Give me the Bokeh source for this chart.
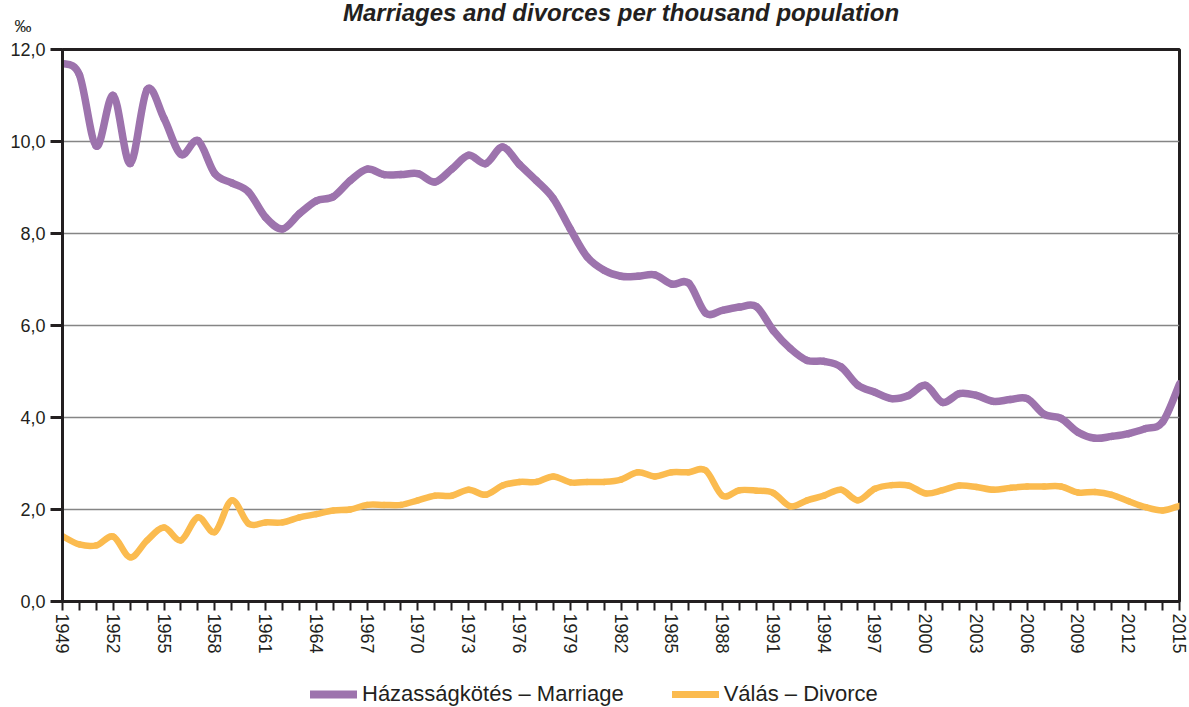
import numpy as np
from bokeh.plotting import figure
from bokeh.layouts import column
from bokeh.models import Range1d, FixedTicker, Legend, LegendItem, ColumnDataSource, Title
from bokeh.embed import file_html
from bokeh.resources import INLINE

# ---------------- data ----------------
years = list(range(1949, 2016))
marriage = [11.70, 11.45, 9.90, 11.00, 9.52, 11.13, 10.50, 9.72, 10.02, 9.30,
            9.10, 8.90, 8.35, 8.10, 8.43, 8.71, 8.80, 9.15, 9.40, 9.28,
            9.28, 9.30, 9.12, 9.40, 9.70, 9.52, 9.88, 9.50, 9.15, 8.76,
            8.10, 7.49, 7.20, 7.07, 7.07, 7.10, 6.90, 6.92, 6.27, 6.33,
            6.40, 6.41, 5.89, 5.50, 5.24, 5.22, 5.10, 4.70, 4.55, 4.41,
            4.48, 4.70, 4.33, 4.52, 4.48, 4.35, 4.39, 4.41, 4.07, 3.98,
            3.68, 3.55, 3.59, 3.65, 3.76, 3.90, 4.73]
divorce = [1.42, 1.24, 1.22, 1.41, 0.96, 1.33, 1.61, 1.33, 1.83, 1.51,
           2.20, 1.69, 1.72, 1.72, 1.83, 1.90, 1.98, 2.00, 2.10, 2.10,
           2.10, 2.20, 2.30, 2.30, 2.43, 2.32, 2.52, 2.60, 2.60, 2.72,
           2.59, 2.60, 2.60, 2.65, 2.81, 2.72, 2.81, 2.81, 2.85, 2.30,
           2.42, 2.41, 2.36, 2.07, 2.20, 2.30, 2.43, 2.20, 2.45, 2.53,
           2.52, 2.35, 2.42, 2.52, 2.49, 2.43, 2.47, 2.50, 2.50, 2.50,
           2.37, 2.38, 2.32, 2.18, 2.05, 1.98, 2.08]
series_names = ["Házasságkötés – Marriage", "Válás – Divorce"]
series_colors = ["#9d73ad", "#fbbb4f"]
series_widths = [7.5, 6.5]
title_text = "Marriages and divorces per thousand population"
unit_text = "‰"
y_ticks = [0, 2, 4, 6, 8, 10, 12]
y_tick_labels = ["0,0", "2,0", "4,0", "6,0", "8,0", "10,0", "12,0"]
x_label_years = list(range(1949, 2016, 3))

FONT = "Liberation Sans"
DARK = "#231f20"


def smooth_source(xs, ys):
    """Catmull-Rom style cubic Bezier segments through the data points."""
    x = np.asarray(xs, float)
    y = np.asarray(ys, float)
    n = len(x)
    xp = np.concatenate([[x[0]], x, [x[-1]]])
    yp = np.concatenate([[y[0]], y, [y[-1]]])
    return ColumnDataSource(dict(
        x0=x[:-1], y0=y[:-1], x1=x[1:], y1=y[1:],
        cx0=x[:-1] + (xp[2:n + 1] - xp[0:n - 1]) / 6.0,
        cy0=y[:-1] + (yp[2:n + 1] - yp[0:n - 1]) / 6.0,
        cx1=x[1:] - (xp[3:n + 2] - xp[1:n]) / 6.0,
        cy1=y[1:] - (yp[3:n + 2] - yp[1:n]) / 6.0,
    ))


p = figure(width=1189, height=656,
           x_range=Range1d(years[0], years[-1]), y_range=Range1d(y_ticks[0], y_ticks[-1]),
           output_backend="svg", toolbar_location=None,
           min_border_left=62, min_border_right=10,
           min_border_top=49, min_border_bottom=55)

p.outline_line_color = DARK
p.outline_line_width = 3
p.background_fill_color = "white"
p.border_fill_color = "white"

# titles: unit sign closest to the frame, main title outermost
p.add_layout(Title(text=unit_text, align="left", offset=-48, standoff=27,
                   text_font=FONT, text_font_size="17px", text_font_style="normal",
                   text_color=DARK), "above")
p.title.text = title_text
p.title.align = "center"
p.title.standoff = -48
p.title.text_font = FONT
p.title.text_font_size = "24px"
p.title.text_font_style = "bold italic"
p.title.text_color = DARK

# grid
p.xgrid.visible = False
p.ygrid.ticker = FixedTicker(ticks=y_ticks)
p.ygrid.grid_line_color = "#858585"
p.ygrid.grid_line_width = 1.6

# y axis
ya = p.yaxis[0]
ya.ticker = FixedTicker(ticks=y_ticks)
ya.major_label_overrides = {t: l for t, l in zip(y_ticks, y_tick_labels)}
ya.axis_line_color = DARK
ya.axis_line_width = 3
ya.major_tick_line_color = DARK
ya.major_tick_line_width = 3
ya.major_tick_out = 12
ya.major_tick_in = 0
ya.minor_tick_line_color = None
ya.major_label_standoff = 5
ya.major_label_text_font = FONT
ya.major_label_text_font_size = "18px"
ya.major_label_text_color = DARK

# x axis
xa = p.xaxis[0]
xa.ticker = FixedTicker(ticks=years)
xa.major_label_overrides = {yr: (str(yr) if yr in x_label_years else "") for yr in years}
xa.major_label_orientation = "vertical"
xa.axis_line_color = DARK
xa.axis_line_width = 3
xa.major_tick_line_color = DARK
xa.major_tick_line_width = 2
xa.major_tick_out = 9
xa.major_tick_in = 0
xa.minor_tick_line_color = None
xa.major_label_standoff = 3
xa.major_label_text_font = FONT
xa.major_label_text_font_size = "18px"
xa.major_label_text_color = DARK

# series (smooth cubic segments through the data points)
for vals, color, width in zip([marriage, divorce], series_colors, series_widths):
    p.bezier(x0="x0", y0="y0", x1="x1", y1="y1", cx0="cx0", cy0="cy0", cx1="cx1", cy1="cy1",
             source=smooth_source(years, vals), line_color=color, line_width=width,
             line_cap="round")

# legend strip below the chart (its series lie outside this strip's view; only the key shows)
pl = figure(width=1189, height=51, x_range=Range1d(0, 1), y_range=Range1d(0, 1),
            output_backend="svg", toolbar_location=None, min_border=0,
            x_axis_location=None, y_axis_location=None)
pl.grid.visible = False
pl.outline_line_color = None
items = []
for name, vals, color, width in zip(series_names, [marriage, divorce], series_colors, series_widths):
    r = pl.line(x=years, y=vals, line_color=color, line_width=width + 0.5, line_cap="round")
    items.append(LegendItem(label=name, renderers=[r]))
legend = Legend(items=items, orientation="horizontal", location=(248, 0),
                glyph_width=47, glyph_height=20, label_height=20, label_standoff=5,
                spacing=48, padding=0, margin=0,
                border_line_color=None, background_fill_alpha=0,
                label_text_font=FONT, label_text_font_size="22px",
                label_text_color=DARK)
pl.add_layout(legend)

layout = column(p, pl, spacing=0)
open("out.html", "w").write(file_html(layout, INLINE))
